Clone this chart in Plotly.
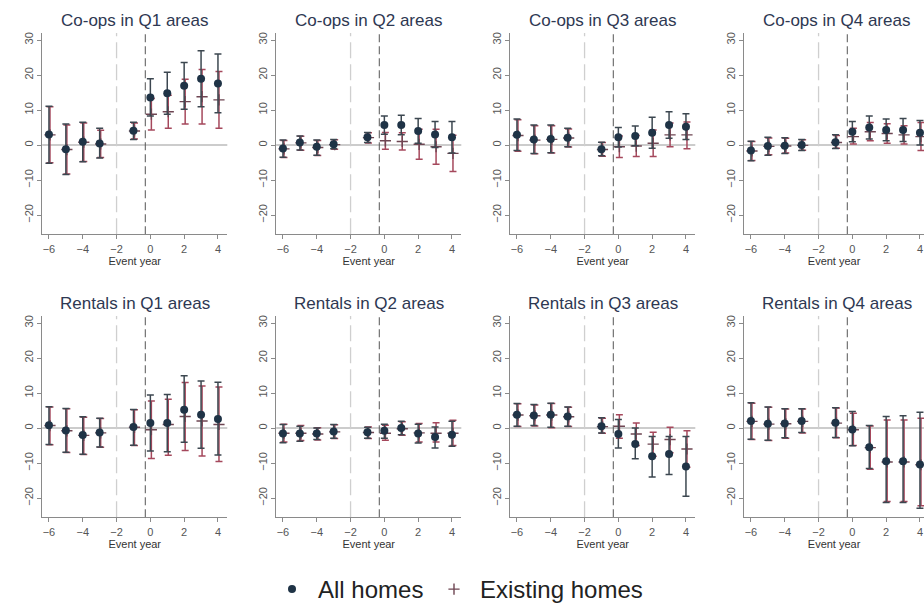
import plotly.graph_objects as go

# Event-study estimates (percent) with 95% confidence bounds
event_years = [-6, -5, -4, -3, -1, 0, 1, 2, 3, 4]
x_ticks = [-6, -4, -2, 0, 2, 4]
y_ticks = [-20, -10, 0, 10, 20, 30]

panel_titles = [
    "Co-ops in Q1 areas", "Co-ops in Q2 areas", "Co-ops in Q3 areas", "Co-ops in Q4 areas",
    "Rentals in Q1 areas", "Rentals in Q2 areas", "Rentals in Q3 areas", "Rentals in Q4 areas",
]
series_names = ["All homes", "Existing homes"]

# Co-ops, Q1 areas
coop_q1_all_est = [3.0, -1.2, 0.9, 0.4, 4.1, 13.6, 14.8, 16.9, 18.9, 17.6]
coop_q1_all_lo = [-5.2, -8.4, -4.8, -3.7, 1.6, 8.3, 8.8, 10.2, 10.9, 9.2]
coop_q1_all_hi = [11.1, 6.0, 6.5, 4.8, 6.5, 18.9, 20.8, 23.6, 26.9, 26.0]
coop_q1_ex_est = [2.9, -1.3, 0.8, 0.3, 4.0, 8.8, 9.5, 12.4, 13.8, 12.9]
coop_q1_ex_lo = [-5.1, -8.3, -4.7, -3.6, 1.7, 4.3, 4.8, 6.0, 6.0, 4.8]
coop_q1_ex_hi = [10.9, 5.7, 6.3, 4.2, 6.3, 13.3, 14.2, 18.8, 21.6, 21.0]

# Co-ops, Q2 areas
coop_q2_all_est = [-1.0, 0.7, -0.5, 0.2, 2.2, 5.7, 5.7, 4.0, 3.0, 2.2]
coop_q2_all_lo = [-3.5, -1.4, -2.9, -1.1, 0.7, 3.1, 2.9, 0.5, -0.7, -2.3]
coop_q2_all_hi = [1.4, 2.6, 1.4, 1.6, 3.6, 8.3, 8.5, 7.6, 6.7, 6.7]
coop_q2_ex_est = [-1.1, 0.6, -0.7, 0.1, 2.1, 1.2, 1.0, 0.2, -0.5, -2.4]
coop_q2_ex_lo = [-3.6, -1.5, -3.0, -1.2, 0.6, -1.2, -1.4, -4.1, -5.5, -7.6]
coop_q2_ex_hi = [1.3, 2.5, 1.3, 1.5, 3.5, 3.6, 3.5, 4.5, 4.5, 2.8]

# Co-ops, Q3 areas
coop_q3_all_est = [2.9, 1.6, 1.7, 2.1, -1.2, 2.2, 2.6, 3.5, 5.7, 5.2]
coop_q3_all_lo = [-1.6, -2.4, -2.2, -0.5, -3.1, -0.6, -0.2, -0.9, 1.9, 1.6]
coop_q3_all_hi = [7.4, 5.7, 5.7, 4.8, 0.8, 5.0, 5.4, 7.9, 9.5, 8.9]
coop_q3_ex_est = [2.7, 1.4, 1.6, 2.0, -1.3, -0.5, -0.3, 0.5, 2.9, 2.9]
coop_q3_ex_lo = [-1.8, -2.5, -2.3, -0.6, -3.2, -3.6, -3.3, -3.3, -0.5, -1.1]
coop_q3_ex_hi = [7.2, 5.5, 5.5, 4.6, 0.7, 2.6, 2.7, 4.3, 6.3, 6.6]

# Co-ops, Q4 areas
coop_q4_all_est = [-1.6, -0.3, -0.2, 0.0, 0.8, 3.8, 5.0, 4.3, 4.3, 3.5]
coop_q4_all_lo = [-4.5, -2.9, -2.4, -1.6, -1.0, 0.9, 1.7, 1.2, 1.0, 0.0]
coop_q4_all_hi = [1.1, 2.2, 2.1, 1.6, 2.9, 6.7, 8.3, 7.4, 7.6, 7.0]
coop_q4_ex_est = [-1.7, -0.4, -0.3, -0.1, 0.7, 2.4, 3.8, 3.3, 2.9, 2.4]
coop_q4_ex_lo = [-4.4, -2.8, -2.3, -1.5, -0.9, 0.3, 1.2, 0.5, 0.3, -1.6]
coop_q4_ex_hi = [1.0, 2.0, 1.9, 1.5, 2.7, 4.8, 6.4, 6.1, 5.5, 6.4]

# Rentals, Q1 areas
rent_q1_all_est = [0.8, -0.7, -2.0, -1.3, 0.3, 1.4, 1.4, 5.2, 3.8, 2.6]
rent_q1_all_lo = [-4.7, -6.9, -7.5, -5.4, -4.9, -6.6, -6.8, -4.1, -5.8, -7.7]
rent_q1_all_hi = [6.1, 5.6, 3.2, 2.8, 5.3, 9.4, 9.6, 14.9, 13.4, 13.1]
rent_q1_ex_est = [0.7, -0.8, -2.1, -1.4, 0.2, -0.5, 1.0, 3.3, 2.0, 1.0]
rent_q1_ex_lo = [-4.8, -7.0, -7.6, -5.5, -5.0, -8.7, -7.8, -6.4, -8.0, -9.6]
rent_q1_ex_hi = [6.0, 5.5, 3.1, 2.7, 5.2, 7.7, 8.2, 13.0, 12.0, 11.7]

# Rentals, Q2 areas
rent_q2_all_est = [-1.6, -1.6, -1.6, -1.0, -1.2, -0.8, 0.0, -1.6, -2.6, -1.9]
rent_q2_all_lo = [-4.2, -3.8, -3.3, -2.9, -2.9, -2.9, -1.9, -4.3, -5.7, -5.2]
rent_q2_all_hi = [1.0, 0.5, 0.0, 1.0, 0.2, 1.1, 1.9, 1.1, 0.3, 1.9]
rent_q2_ex_est = [-1.5, -1.5, -1.7, -1.1, -1.3, -1.5, -0.2, -1.4, -1.5, -1.5]
rent_q2_ex_lo = [-4.0, -3.6, -3.4, -3.0, -3.0, -3.5, -2.1, -4.0, -4.0, -5.0]
rent_q2_ex_hi = [1.1, 0.7, 0.1, 0.9, 0.3, 0.8, 1.8, 1.3, 1.5, 2.2]

# Rentals, Q3 areas
rent_q3_all_est = [3.8, 3.6, 3.8, 3.3, 0.5, -1.7, -4.6, -8.1, -7.4, -11.0]
rent_q3_all_lo = [0.5, 0.7, 0.2, 0.5, -1.4, -5.7, -8.8, -14.0, -13.3, -19.5]
rent_q3_all_hi = [7.0, 6.7, 7.1, 6.0, 2.9, 2.4, 0.0, -2.4, -2.4, -2.4]
rent_q3_ex_est = [3.7, 3.5, 3.7, 3.2, 0.4, 0.5, -1.7, -4.6, -3.3, -6.0]
rent_q3_ex_lo = [0.4, 0.6, 0.1, 0.4, -1.5, -2.9, -5.0, -8.1, -7.1, -11.2]
rent_q3_ex_hi = [6.9, 6.6, 7.0, 5.9, 2.8, 3.8, 1.4, -1.2, 0.2, -0.8]

# Rentals, Q4 areas
rent_q4_all_est = [2.0, 1.2, 1.3, 2.0, 1.5, -0.4, -5.5, -9.5, -9.5, -10.4]
rent_q4_all_lo = [-3.2, -3.5, -2.8, -1.3, -2.7, -5.1, -11.6, -21.3, -21.3, -22.9]
rent_q4_all_hi = [7.2, 6.0, 5.5, 5.5, 5.8, 4.7, 0.7, 3.3, 3.5, 4.5]
rent_q4_ex_est = [1.9, 1.1, 1.2, 1.9, 1.4, -0.5, -5.6, -9.7, -9.7, -10.5]
rent_q4_ex_lo = [-3.3, -3.6, -2.9, -1.4, -2.8, -5.0, -11.8, -21.0, -21.0, -22.2]
rent_q4_ex_hi = [7.1, 5.9, 5.4, 5.4, 5.7, 4.2, 0.6, 2.3, 2.3, 2.8]

panels = [
    ((coop_q1_all_est, coop_q1_all_lo, coop_q1_all_hi), (coop_q1_ex_est, coop_q1_ex_lo, coop_q1_ex_hi)),
    ((coop_q2_all_est, coop_q2_all_lo, coop_q2_all_hi), (coop_q2_ex_est, coop_q2_ex_lo, coop_q2_ex_hi)),
    ((coop_q3_all_est, coop_q3_all_lo, coop_q3_all_hi), (coop_q3_ex_est, coop_q3_ex_lo, coop_q3_ex_hi)),
    ((coop_q4_all_est, coop_q4_all_lo, coop_q4_all_hi), (coop_q4_ex_est, coop_q4_ex_lo, coop_q4_ex_hi)),
    ((rent_q1_all_est, rent_q1_all_lo, rent_q1_all_hi), (rent_q1_ex_est, rent_q1_ex_lo, rent_q1_ex_hi)),
    ((rent_q2_all_est, rent_q2_all_lo, rent_q2_all_hi), (rent_q2_ex_est, rent_q2_ex_lo, rent_q2_ex_hi)),
    ((rent_q3_all_est, rent_q3_all_lo, rent_q3_all_hi), (rent_q3_ex_est, rent_q3_ex_lo, rent_q3_ex_hi)),
    ((rent_q4_all_est, rent_q4_all_lo, rent_q4_all_hi), (rent_q4_ex_est, rent_q4_ex_lo, rent_q4_ex_hi)),
]

# Styling
W, H = 924, 612
FONT = "Liberation Sans, Arial, sans-serif"
ALL_MARKER = "#1f3346"
ALL_BAR = "#3c4750"
EX_MARKER = "#6e4552"
EX_BAR = "#a5485c"
AXIS_COL = "#8a8a8a"
TICK_COL = "#555555"
TITLE_COL = "#2e3852"

X_MIN, X_MAX = -6.4, 4.55
Y_MIN, Y_MAX = -25.5, 32
PX_PER_X = 16.9
COL_LEFT0, COL_STEP, COL_W = 42.2, 234.0, 185.1
ROW_TOP = [33.0, 316.0]
ROW_H = 201.25
EX_SHIFT = 0.06

legend_common = dict(
    orientation="h", xanchor="left", y=0, yanchor="bottom",
    font=dict(family=FONT, size=24, color="#222222"),
    itemsizing="trace", itemwidth=42, bgcolor="rgba(0,0,0,0)",
)

fig = go.Figure()
layout = dict(
    width=W, height=H,
    margin=dict(l=0, r=0, t=0, b=0),
    paper_bgcolor="white", plot_bgcolor="white",
    font=dict(family=FONT, color="#333333"),
    showlegend=True,
    legend=dict(legend_common, x=266 / W),
    legend2=dict(legend_common, x=428 / W),
)
shapes = []
annotations = []

for k, (all_s, ex_s) in enumerate(panels):
    row, col = divmod(k, 4)
    n = k + 1
    xa = "x" if n == 1 else f"x{n}"
    ya = "y" if n == 1 else f"y{n}"
    left = COL_LEFT0 + COL_STEP * col
    right = min(left + COL_W, W)
    x_hi = X_MIN + (right - left) / PX_PER_X
    top = ROW_TOP[row]
    bottom = top + ROW_H

    axis_common = dict(
        showgrid=False, zeroline=False, showline=True, linecolor=AXIS_COL, linewidth=1.3,
        ticks="outside", ticklen=4, tickwidth=1.2, tickcolor=AXIS_COL,
        tickfont=dict(family=FONT, size=11, color=TICK_COL),
    )
    layout[f"xaxis{'' if n == 1 else n}"] = dict(
        axis_common, domain=[left / W, right / W], anchor=ya,
        range=[X_MIN, x_hi], tickvals=x_ticks,
        title=dict(text="Event year", font=dict(family=FONT, size=11, color="#333333"), standoff=2),
    )
    layout[f"yaxis{'' if n == 1 else n}"] = dict(
        axis_common, domain=[1 - bottom / H, 1 - top / H], anchor=xa,
        range=[Y_MIN, Y_MAX], tickvals=y_ticks, tickangle=-90,
    )

    # reference lines: zero, treatment window markers
    shapes.append(dict(type="line", xref=f"{xa} domain", yref=ya, x0=0, x1=1, y0=0, y1=0,
                       line=dict(color="#9a9a9a", width=1.2), layer="below"))
    shapes.append(dict(type="line", xref=xa, yref=f"{ya} domain", x0=-2, x1=-2, y0=0, y1=1,
                       line=dict(color="#cfcfcf", width=1.3, dash="16px,6px"), layer="below"))
    shapes.append(dict(type="line", xref=xa, yref=f"{ya} domain", x0=-0.3, x1=-0.3, y0=0, y1=1,
                       line=dict(color="#555555", width=1.0, dash="8px,4px"), layer="below"))

    annotations.append(dict(
        text=panel_titles[k], xref="paper", yref="paper",
        x=(left + COL_W / 2) / W, y=1 - (top - 12.5) / H,
        xanchor="center", yanchor="middle", showarrow=False,
        font=dict(family=FONT, size=17, color=TITLE_COL),
    ))

    # Existing homes (drawn underneath, nudged right)
    est, lo, hi = ex_s
    fig.add_trace(go.Scatter(
        x=[e + EX_SHIFT for e in event_years], y=est, xaxis=xa, yaxis=ya,
        mode="markers", name=series_names[1], legendgroup="ex", showlegend=(k == 0),
        legend="legend2",
        marker=dict(symbol="cross-thin", size=8, color=EX_MARKER, line=dict(color=EX_MARKER, width=1.4)),
        error_y=dict(type="data", symmetric=False,
                     array=[h - e for h, e in zip(hi, est)],
                     arrayminus=[e - l for e, l in zip(est, lo)],
                     color=EX_BAR, thickness=1.5, width=3.5),
        cliponaxis=True,
    ))
    # All homes
    est, lo, hi = all_s
    fig.add_trace(go.Scatter(
        x=event_years, y=est, xaxis=xa, yaxis=ya,
        mode="markers", name=series_names[0], legendgroup="all", showlegend=(k == 0),
        legend="legend",
        marker=dict(symbol="circle", size=8, color=ALL_MARKER),
        error_y=dict(type="data", symmetric=False,
                     array=[h - e for h, e in zip(hi, est)],
                     arrayminus=[e - l for e, l in zip(est, lo)],
                     color=ALL_BAR, thickness=1.5, width=3.5),
        cliponaxis=True,
    ))

layout["shapes"] = shapes
layout["annotations"] = annotations
fig.update_layout(**layout)
fig.write_html("out.html")
